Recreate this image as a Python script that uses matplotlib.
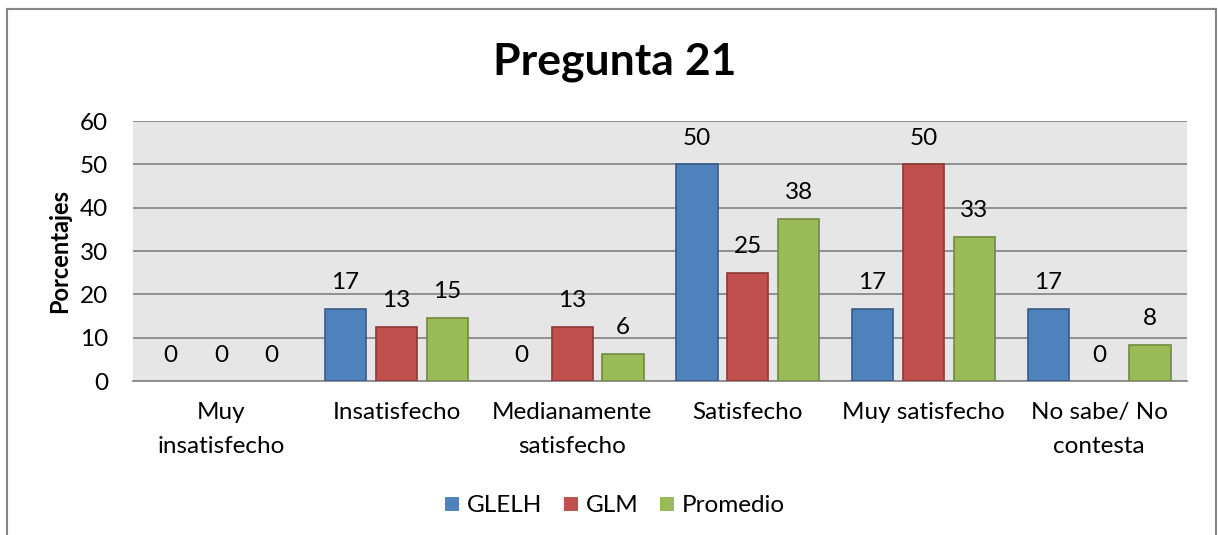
import numpy as np
import matplotlib.pyplot as plt
from matplotlib.lines import Line2D

categories = ["Muy\ninsatisfecho", "Insatisfecho", "Medianamente\nsatisfecho",
              "Satisfecho", "Muy satisfecho", "No sabe/ No\ncontesta"]
series_names = ["GLELH", "GLM", "Promedio"]
glelh = [0, 16.67, 0, 50, 16.67, 16.67]
glm = [0, 12.5, 12.5, 25, 50, 0]
promedio = [0, 14.58, 6.25, 37.5, 33.33, 8.33]

fill_colors = ["#4f81bd", "#c0504d", "#9bbb59"]
edge_colors = ["#385d8a", "#8c3836", "#71893f"]

plt.rcParams['font.family'] = ['Lato', 'DejaVu Sans']

fig = plt.figure(figsize=(12.18, 5.35), dpi=100)
ax = fig.add_axes([133 / 1218, 1 - 381 / 535, 1054 / 1218, 260 / 535])

x = np.arange(len(categories))
width = 0.235
step = 0.29
for i, (vals, name) in enumerate(zip([glelh, glm, promedio], series_names)):
    pos = x + (i - 1) * step
    lw = [1.2 if v > 0 else 0 for v in vals]
    ax.bar(pos, vals, width, color=fill_colors[i], edgecolor=edge_colors[i],
           linewidth=lw, label=name, zorder=3)
    for px, v in zip(pos, vals):
        ax.text(px, v + 6, str(int(v + 0.5)), ha="center", va="center",
                fontsize=17.5, zorder=4)

ax.set_xlim(-0.5, len(categories) - 0.5)
ax.set_ylim(0, 60)
ax.set_yticks(range(0, 61, 10))
ax.set_xticks(x)
ax.set_xticklabels(categories, fontsize=17.5, linespacing=1.75)
ax.tick_params(axis="y", labelsize=17.5, length=0, pad=18)
ax.tick_params(axis="x", length=0, pad=15)
ax.set_facecolor("#e6e6e6")
ax.grid(axis="y", color="#8a8a8a", linewidth=1.3, zorder=1)
ax.set_axisbelow(True)
for side in ["left", "right", "top"]:
    ax.spines[side].set_visible(False)
ax.spines["bottom"].set_color("#8a8a8a")
ax.spines["bottom"].set_linewidth(1.3)
ax.set_ylabel("Porcentajes", fontsize=17, fontweight="bold")
ax.yaxis.set_label_coords(-62 / 1054, 0.5)

fig.text(615 / 1218, 1 - 62 / 535, "Pregunta 21", ha="center", va="center",
         fontsize=32, fontweight="bold")

fig.legend(loc="center", bbox_to_anchor=(615 / 1218, 1 - 506 / 535), ncol=3,
           frameon=False, fontsize=17.5, handlelength=0.56, handleheight=0.56,
           handletextpad=0.32, columnspacing=0.9)

# outer chart border (left, top, right)
fig.add_artist(Line2D([7 / 1218, 7 / 1218], [0, 1 - 9 / 535], transform=fig.transFigure,
                      color="#868686", linewidth=1.5))
fig.add_artist(Line2D([7 / 1218, 1216 / 1218], [1 - 9 / 535, 1 - 9 / 535],
                      transform=fig.transFigure, color="#868686", linewidth=1.5))
fig.add_artist(Line2D([1216 / 1218, 1216 / 1218], [0, 1 - 9 / 535], transform=fig.transFigure,
                      color="#868686", linewidth=1.5))

fig.savefig("out.png", dpi=100)
